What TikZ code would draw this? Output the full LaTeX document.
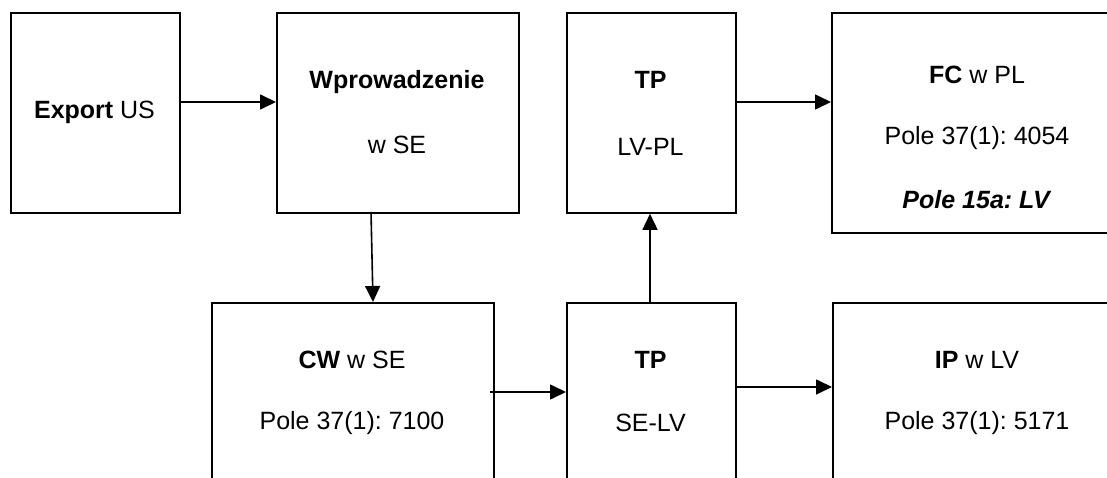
\documentclass[tikz,border=0pt]{standalone}
\usepackage{fontspec}
\setmainfont{Liberation Sans}
\usetikzlibrary{arrows.meta}
\frenchspacing
\begin{document}
\begin{tikzpicture}[x=1pt,y=-1pt,
  box/.style={draw=black,line width=1.8pt,rectangle,inner sep=0pt,anchor=north west},
  txt/.style={font=\fontsize{25}{30}\selectfont,inner sep=0pt,anchor=center},
  arr/.style={line width=1.6pt,-{Triangle[length=16pt,width=15pt]}}]
\useasboundingbox (0,0) rectangle (1107,478);
\clip (0,0) rectangle (1107,478);
% boxes
\node[box,minimum width=169pt,minimum height=200pt] (ex) at (10,12) {};
\node[box,minimum width=242pt,minimum height=200pt] (wp) at (276,12) {};
\node[box,minimum width=169pt,minimum height=200pt] (tpa) at (566,12) {};
\node[box,minimum width=292pt,minimum height=220pt] (fc) at (831,12) {};
\node[box,minimum width=282pt,minimum height=220pt] (cw) at (211,302) {};
\node[box,minimum width=169pt,minimum height=220pt] (tpb) at (566,302) {};
\node[box,minimum width=292pt,minimum height=220pt] (ip) at (832,302) {};
% texts
\node[txt] (t1) at (94.5,112) {\frenchspacing\textbf{Export} US};
\node[txt] (t2) at (397,82) {\textbf{Wprowadzenie}};
\node[txt] (t3) at (397,145) {w SE};
\node[txt] (t4) at (650.5,80) {\textbf{TP}};
\node[txt] (t5) at (650.5,147) {LV-PL};
\node[txt] (t6) at (977,75) {\textbf{FC} w PL};
\node[txt] (t7) at (977,138) {\frenchspacing Pole 37(1): 4054};
\node[txt] (t8) at (977,200) {\frenchspacing\textbf{\itshape Pole 15a: LV}};
\node[txt] (t9) at (352,360) {\textbf{CW} w SE};
\node[txt] (t10) at (352,423) {\frenchspacing Pole 37(1): 7100};
\node[txt] (t11) at (650.5,360) {\textbf{TP}};
\node[txt] (t12) at (650.5,423) {SE-LV};
\node[txt] (t13) at (977,360) {\textbf{IP} w LV};
\node[txt] (t14) at (977,423) {\frenchspacing Pole 37(1): 5171};
% connectors
\draw[arr] (ex.east |- 0,102) -- (wp.west |- 0,102);
\draw[arr] (371,212) -- (cw.north -| 373,0);
\draw[arr] (490,392) -- (tpb.west |- 0,392);
\draw[arr] (tpb.north -| 650,0) -- (tpa.south -| 650,0);
\draw[arr] (tpa.east |- 0,102) -- (fc.west |- 0,102);
\draw[arr] (tpb.east |- 0,387) -- (ip.west |- 0,387);
\end{tikzpicture}
\end{document}
